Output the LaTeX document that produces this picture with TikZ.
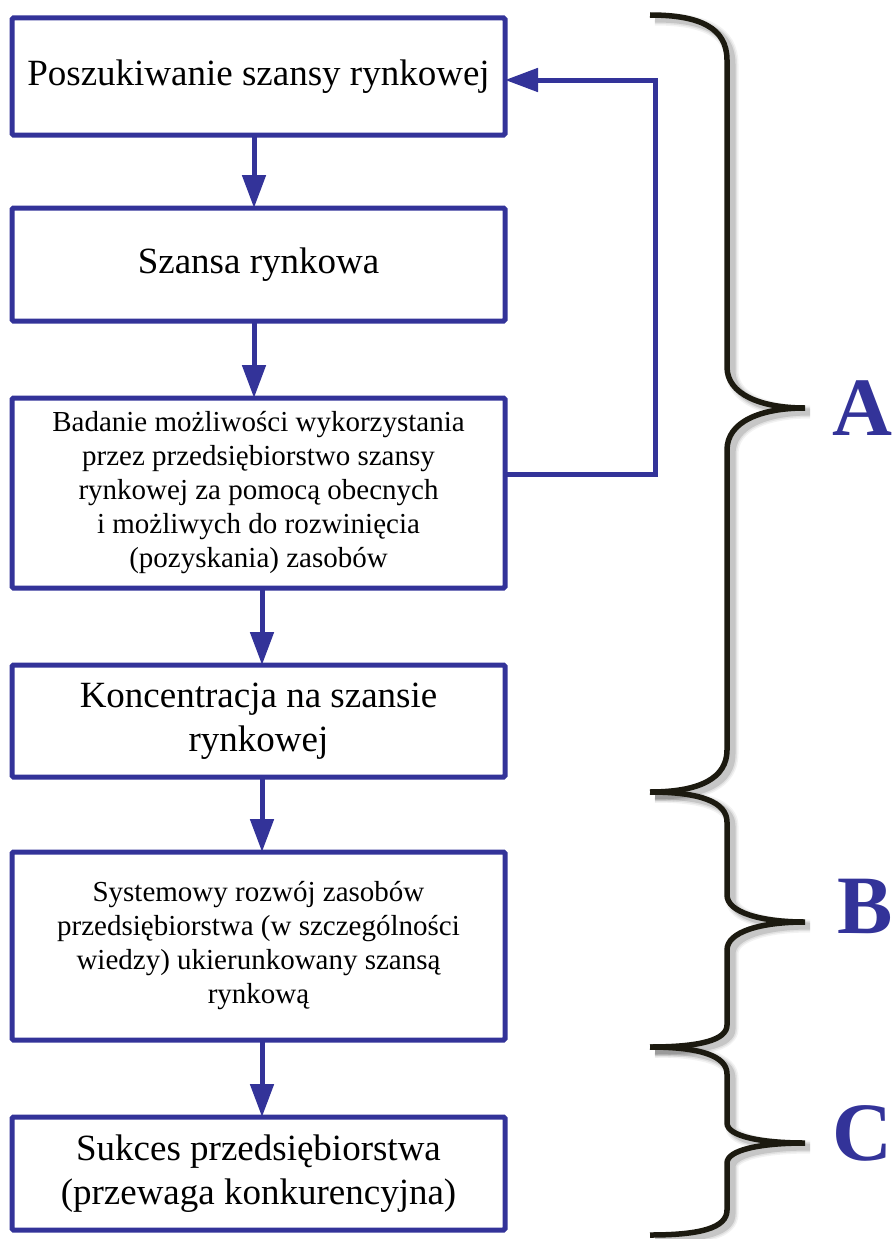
\documentclass[tikz,border=0pt]{standalone}
\usepackage{fontspec}
\setmainfont{Liberation Serif}
\usetikzlibrary{arrows.meta}
\definecolor{flowblue}{RGB}{51,51,153}
\definecolor{braceink}{RGB}{28,26,16}

% outlines of the three curly braces on the right
\def\braceA{(650,15) .. controls (700,15) and (727,28) .. (727,60) -- (727,367)
  .. controls (727,394) and (760,408) .. (805,408)
  .. controls (760,408) and (727,422) .. (727,450) -- (727,750)
  .. controls (727,778) and (700,792) .. (650,792)}
\def\braceB{(650,792) .. controls (700,792) and (727,802) .. (727,822) -- (727,895)
  .. controls (727,912) and (760,922) .. (805,922)
  .. controls (760,922) and (727,932) .. (727,950) -- (727,1025)
  .. controls (727,1040) and (700,1047) .. (650,1047)}
\def\braceC{(650,1047) .. controls (700,1047) and (727,1056) .. (727,1074) -- (727,1123)
  .. controls (727,1136) and (760,1143) .. (805,1143)
  .. controls (760,1143) and (727,1150) .. (727,1163) -- (727,1210)
  .. controls (727,1228) and (700,1235) .. (650,1235)}

\begin{document}
\begin{tikzpicture}[x=1pt, y=-1pt,
  box/.style={draw=flowblue, line width=5pt, rounded corners=1.5pt,
    minimum width=493pt, inner sep=0pt, outer sep=0pt, align=center, text=black},
  big/.style={font=\fontsize{37}{44}\selectfont},
  small/.style={font=\fontsize{29}{34}\selectfont},
  flow/.style={draw=flowblue, line width=5pt, -{Triangle[length=33pt,width=23pt]}},
  brace/.style={draw=braceink, line width=5.5pt},
  braceshadow/.style={draw=black, line width=#1, xshift=5pt, yshift=-4pt},
  letter/.style={text=flowblue, inner sep=0pt, anchor=base west,
    font=\fontsize{83}{83}\selectfont\bfseries}]

\path[use as bounding box] (0,0) rectangle (894,1239);

% flow boxes
\node[box, big, minimum height=117pt] (b1) at (258.5,76.5) {Poszukiwanie szansy rynkowej};
\node[box, big, minimum height=113pt] (b2) at (258.5,264.5) {Szansa rynkowa};
\node[box, small, minimum height=190pt] (b3) at (258.5,493)
  {Badanie możliwości wykorzystania\\przez przedsiębiorstwo szansy\\rynkowej za pomocą obecnych\\i możliwych do rozwinięcia\\(pozyskania) zasobów};
\node[box, big, minimum height=112pt] (b4) at (258.5,721) {Koncentracja na szansie\\rynkowej};
\node[box, small, minimum height=188pt] (b5) at (258.5,946)
  {Systemowy rozwój zasobów\\przedsiębiorstwa (w szczególności\\wiedzy) ukierunkowany szansą\\rynkową};
\node[box, big, minimum height=113pt] (b6) at (258.5,1173.5) {Sukces przedsiębiorstwa\\(przewaga konkurencyjna)};

% downward connectors
\draw[flow] ([xshift=-4.5pt]b1.south) -- ([xshift=-4.5pt]b2.north);
\draw[flow] ([xshift=-4.5pt]b2.south) -- ([xshift=-4.5pt]b3.north);
\draw[flow] ([xshift=3.5pt]b3.south) -- ([xshift=3.5pt]b4.north);
\draw[flow] ([xshift=3.5pt]b4.south) -- ([xshift=3.5pt]b5.north);
\draw[flow] ([xshift=3.5pt]b5.south) -- ([xshift=3.5pt]b6.north);

% feedback loop back to the search step
\coordinate (fb) at (655,80);
\draw[flow] ([yshift=19pt]b3.east) -| (fb) -- ([yshift=-3.5pt]b1.east);

% soft shadows of the braces
\foreach \w/\o in {13pt/0.05, 10pt/0.07, 7pt/0.12} {
  \draw[braceshadow=\w, opacity=\o] \braceA;
  \draw[braceshadow=\w, opacity=\o] \braceB;
  \draw[braceshadow=\w, opacity=\o] \braceC;
}
% braces
\draw[brace] \braceA;
\draw[brace] \braceB;
\draw[brace] \braceC;

% stage letters
\node[letter] (lA) at (832,435) {A};
\node[letter] (lB) at (837,933) {B};
\node[letter] (lC) at (832,1160) {C};
\end{tikzpicture}
\end{document}
